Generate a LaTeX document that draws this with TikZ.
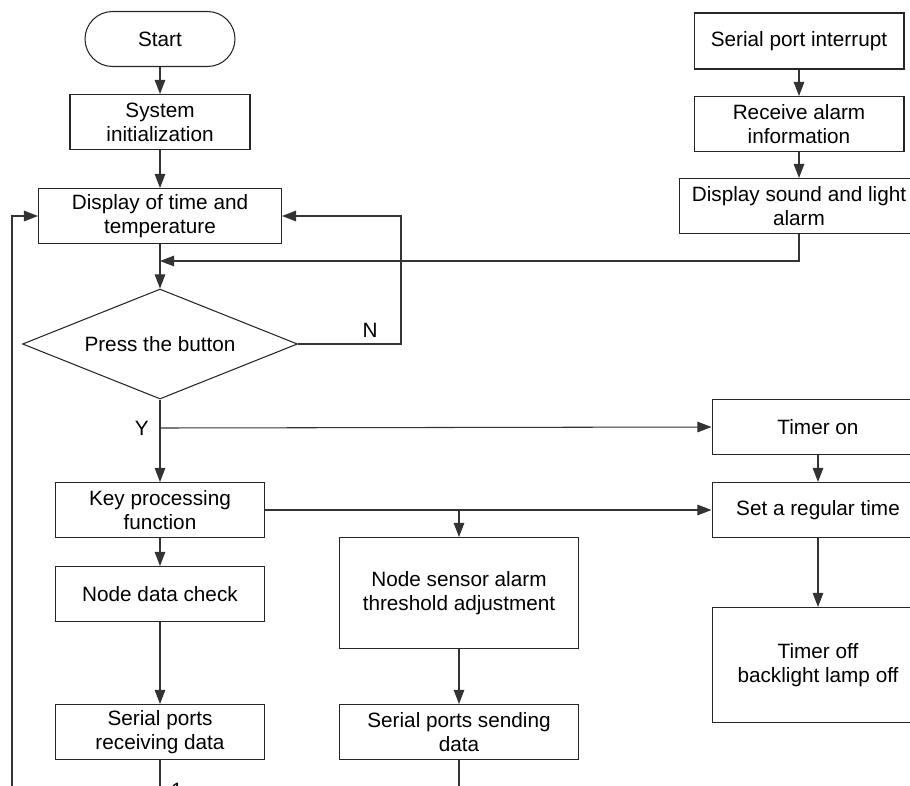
\documentclass[tikz,border=0pt]{standalone}
\usepackage{fontspec}
\setmainfont{Liberation Sans}
\usetikzlibrary{positioning,shapes.geometric,arrows.meta}

\tikzset{
  wire/.style={line width=0.6pt, draw=black!80},
  flow/.style={wire, -{Triangle[length=8pt,width=6pt]}},
  box/.style={draw=black!85, line width=0.6pt, align=center, inner sep=0pt, minimum height=1.1cm},
}

\begin{document}
\begin{tikzpicture}[x=0.02cm, y=-0.02cm, font=\fontsize{11.8}{13.6}\selectfont]
    \useasboundingbox (0,0) rectangle (910,785);
    \clip (0,0) rectangle (910,785);

    % main column
    \node[box, rounded corners=0.55cm, minimum width=3cm] (start) at (160,39) {Start};
    \node[box, minimum width=3.6cm] (init) at (160,122) {System\\initialization};
    \node[box, minimum width=4.86cm] (display) at (160,216) {Display of time and\\temperature};
    \node[draw=black!85, line width=0.6pt, diamond, aspect=2.5, minimum width=5.5cm, minimum height=2.2cm, inner sep=0pt] (press) at (160,344) {Press the button};
    \node[box, minimum width=4.18cm] (key) at (160,510) {Key processing\\function};
    \node[box, minimum width=4.18cm] (check) at (160,594) {Node data check};
    \node[box, minimum width=4.18cm] (recv) at (160,732) {Serial ports\\receiving data};

    % middle column
    \node[box, minimum width=4.78cm, minimum height=2.22cm] (sensor) at (459,593) {Node sensor alarm\\threshold adjustment};
    \node[box, minimum width=4.78cm] (send) at (459,732) {Serial ports sending\\data};

    % right column
    \node[box, minimum width=4.2cm, minimum height=1.12cm] (interrupt) at (799,41) {Serial port interrupt};
    \node[box, minimum width=4.2cm] (receive) at (799,124) {Receive alarm\\information};
    \node[box, minimum width=4.8cm] (alarm) at (799,206) {Display sound and light\\alarm};
    \node[box, minimum width=4.24cm] (timeron) at (818,427) {Timer on};
    \node[box, minimum width=4.24cm] (settime) at (818,510) {Set a regular time};
    \node[box, minimum width=4.24cm, minimum height=2.3cm] (timeroff) at (818,665) {Timer off\\backlight lamp off};

    \coordinate (merge)   at (160,261);
    \coordinate (ysplit)  at (160,428);
    \coordinate (ksplit)  at (459,510);
    \coordinate (loopbot) at (12,800);
    \node[left=0.1cm of ysplit] (ylab) {Y};
    \node (one) at (177,790) {1};

    \draw[flow] (start)   -- (init);
    \draw[flow] (init)    -- (display);
    \draw[flow] (display) -- (press);
    \draw[flow] (press.east) -- node[pos=0.7, above] (nlab) {N} ++(103,0) |- (display.east);
    \draw[flow] (press.south) -- (key.north);
    \draw[flow] (ysplit)  -- (timeron.west);
    \draw[flow] (key)     -- (check);
    \draw[flow] (check)   -- (recv);
    \draw[flow] (key.east) -- (settime.west);
    \draw[flow] (ksplit)  -- (sensor.north);
    \draw[flow] (sensor)  -- (send);
    \draw[flow] (timeron) -- (settime);
    \draw[flow] (settime) -- (timeroff);
    \draw[flow] (interrupt) -- (receive);
    \draw[flow] (receive) -- (alarm);
    \draw[flow] (alarm.south) |- (merge);
    \draw[wire] (recv.south) -- ++(0,40);
    \draw[wire] (send.south) -- ++(0,40);
    \draw[flow] (loopbot) |- (display.west);
\end{tikzpicture}
\end{document}
